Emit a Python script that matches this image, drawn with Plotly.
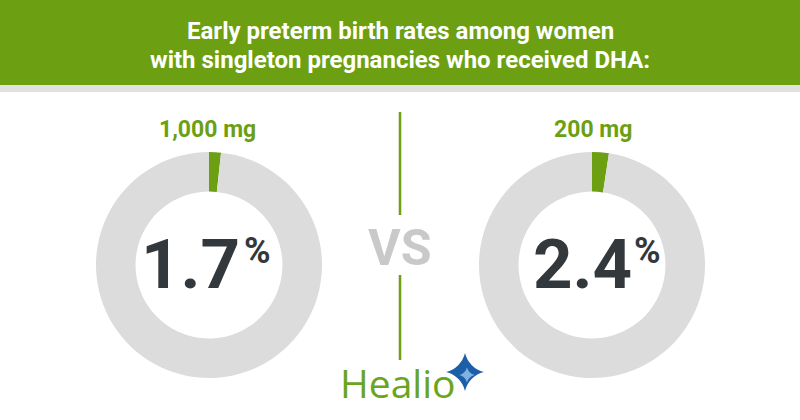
import plotly.graph_objects as go

# ---- data ----
title_lines = ["Early preterm birth rates among women",
               "with singleton pregnancies who received DHA:"]
doses = ["1,000 mg", "200 mg"]
rates = [1.7, 2.4]
rate_labels = ["1.7", "2.4"]
vs_label = "VS"
brand = "Healio"

GREEN = "#6c9f12"
RING = "#dcdcdc"
DARK = "#33383c"

W, H = 800, 420
fig = go.Figure()

# donut geometry (pixels)
centers = [(209, 265), (592, 265)]
R = 113

for (cx, cy), rate in zip(centers, rates):
    fig.add_trace(go.Pie(
        values=[rate, 100 - rate],
        sort=False, direction="clockwise", rotation=0,
        hole=0.65,
        marker=dict(colors=[GREEN, RING], line=dict(width=0)),
        textinfo="none", hoverinfo="skip", showlegend=False,
        domain=dict(x=[(cx - R) / W, (cx + R) / W],
                    y=[(H - cy - R) / H, (H - cy + R) / H]),
    ))

fig.add_trace(go.Scatter(x=[0, W], y=[0, H], mode="markers",
                         marker=dict(opacity=0), hoverinfo="skip", showlegend=False))

shapes = [
    dict(type="rect", x0=0, x1=W, y0=0, y1=85, fillcolor=GREEN, line=dict(width=0), layer="below"),
    dict(type="rect", x0=0, x1=W, y0=85, y1=92, fillcolor="#e1e1e1", line=dict(width=0), layer="below"),
    dict(type="line", x0=400, x1=400, y0=112, y1=215, line=dict(color=GREEN, width=2.5)),
    dict(type="line", x0=400, x1=400, y0=275, y1=360, line=dict(color=GREEN, width=2.5)),
]

ann = []
ann.append(dict(x=400, y=31, text=title_lines[0], showarrow=False,
                font=dict(family="Roboto", size=24, color="white", weight="bold")))
ann.append(dict(x=400, y=60, text=title_lines[1], showarrow=False,
                font=dict(family="Roboto", size=24, color="white", weight="bold")))

label_x = [207, 593]
num_x = [190, 582]
pct_x = [257, 647]
for i in range(2):
    ann.append(dict(x=label_x[i], y=129, text=doses[i], showarrow=False,
                    font=dict(family="Roboto", size=23, color=GREEN, weight="bold")))
    ann.append(dict(x=num_x[i], y=264, text=rate_labels[i], showarrow=False,
                    font=dict(family="Roboto", size=69, color=DARK, weight="bold")))
    ann.append(dict(x=pct_x[i], y=251, text="%", showarrow=False,
                    font=dict(family="Roboto", size=36, color=DARK, weight="bold")))

ann.append(dict(x=399, y=248, text=vs_label, showarrow=False,
                font=dict(family="Roboto", size=50, color="#c9c9c9", weight="bold")))
ann.append(dict(x=397, y=382, text=brand, showarrow=False,
                font=dict(family="Open Sans", size=39, color="#6aa51e")))

for a in ann:
    a.update(xref="x", yref="y", xanchor="center", yanchor="middle")

# logo star
fig.add_trace(go.Scatter(x=[465], y=[372], mode="markers",
                         marker=dict(symbol="star-diamond", size=27, color="#1d5ea8",
                                     line=dict(width=0)),
                         hoverinfo="skip", showlegend=False))
fig.add_trace(go.Scatter(x=[467], y=[375], mode="markers",
                         marker=dict(symbol="star-diamond", size=11, color="#7fb2e0",
                                     line=dict(width=0)),
                         hoverinfo="skip", showlegend=False))

fig.update_layout(
    width=W, height=H, margin=dict(l=0, r=0, t=0, b=0),
    paper_bgcolor="white", plot_bgcolor="white",
    xaxis=dict(range=[0, W], visible=False, fixedrange=True),
    yaxis=dict(range=[H, 0], visible=False, fixedrange=True),
    shapes=shapes, annotations=ann,
)

fig.write_html("out.html", config={"displayModeBar": False, "staticPlot": True})

# remove the browser's default 8px body margin
with open("out.html", encoding="utf-8") as f:
    html = f.read()
html = html.replace("<head>", "<head><style>html,body{margin:0;padding:0;overflow:hidden}</style>", 1)
with open("out.html", "w", encoding="utf-8") as f:
    f.write(html)
